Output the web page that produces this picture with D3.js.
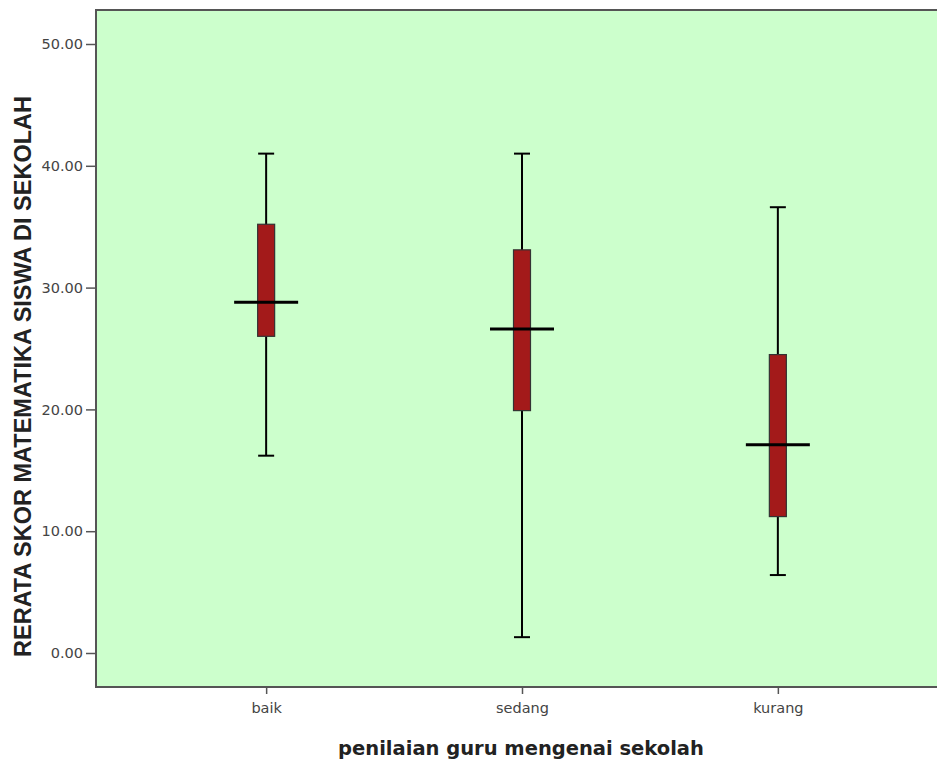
<!DOCTYPE html>
<html>
<head>
<meta charset="utf-8">
<script src="https://cdn.jsdelivr.net/npm/d3@7"></script>
<style>
  body { margin: 0; background: #fff; }
  svg { display: block; font-family: "Liberation Sans", Arial, sans-serif; }
</style>
</head>
<body>
<svg width="937" height="762"></svg>
<script>
// data
const categories = ["baik", "sedang", "kurang"];
const whiskerHigh = [41.0, 41.0, 36.6];
const q3 = [35.2, 33.1, 24.5];
const medians = [28.8, 26.6, 17.1];
const q1 = [26.0, 19.9, 11.2];
const whiskerLow = [16.2, 1.3, 6.4];
const yTicks = [0, 10, 20, 30, 40, 50];

const svg = d3.select("svg");
const plot = {left: 96, top: 10, right: 948, bottom: 687};

// y: 0 -> 653, 50 -> 44
const y = d3.scaleLinear().domain([0, 50]).range([653, 44]);
const x = d3.scalePoint().domain(categories).range([plot.left, plot.right]).padding(0.665);

// background
svg.append("rect")
    .attr("x", plot.left).attr("y", plot.top)
    .attr("width", plot.right - plot.left).attr("height", plot.bottom - plot.top)
    .attr("fill", "#ccffcc").attr("stroke", "#555").attr("stroke-width", 2);

// axes
const yAxis = d3.axisLeft(y).tickValues(yTicks).tickFormat(d3.format(".2f")).tickSize(10).tickSizeOuter(0);
const gy = svg.append("g").attr("transform", `translate(${plot.left},0)`).call(yAxis);
gy.select(".domain").remove();
gy.selectAll(".tick line").attr("stroke", "#555").attr("stroke-width", 1.5);
gy.selectAll(".tick text").attr("fill", "#444")
    .style("font-family", "'DejaVu Sans', Verdana, sans-serif").style("font-size", "14.5px").attr("x", -13);

const xAxis = d3.axisBottom(x).tickSize(7).tickSizeOuter(0);
const gx = svg.append("g").attr("transform", `translate(0,${plot.bottom})`).call(xAxis);
gx.select(".domain").remove();
gx.selectAll(".tick line").attr("stroke", "#555").attr("stroke-width", 1.5);
gx.selectAll(".tick text").attr("fill", "#444")
    .style("font-family", "'DejaVu Sans', Verdana, sans-serif").style("font-size", "14.5px").attr("y", 16);

// boxes
const data = categories.map((c, i) => ({c, hi: whiskerHigh[i], q3: q3[i], med: medians[i], q1: q1[i], lo: whiskerLow[i]}));
const boxW = 17, medW = 64, capW = 16;
const g = svg.selectAll("g.box").data(data).enter().append("g").attr("class", "box");

g.append("line")
    .attr("x1", d => x(d.c)).attr("x2", d => x(d.c))
    .attr("y1", d => y(d.hi)).attr("y2", d => y(d.lo))
    .attr("stroke", "#000").attr("stroke-width", 2);
g.append("line")
    .attr("x1", d => x(d.c) - capW / 2).attr("x2", d => x(d.c) + capW / 2)
    .attr("y1", d => y(d.hi)).attr("y2", d => y(d.hi))
    .attr("stroke", "#000").attr("stroke-width", 2);
g.append("line")
    .attr("x1", d => x(d.c) - capW / 2).attr("x2", d => x(d.c) + capW / 2)
    .attr("y1", d => y(d.lo)).attr("y2", d => y(d.lo))
    .attr("stroke", "#000").attr("stroke-width", 2);
g.append("rect")
    .attr("x", d => x(d.c) - boxW / 2).attr("width", boxW)
    .attr("y", d => y(d.q3)).attr("height", d => y(d.q1) - y(d.q3))
    .attr("fill", "#a31a1a").attr("stroke", "#333").attr("stroke-width", 1.2);
g.append("line")
    .attr("x1", d => x(d.c) - medW / 2).attr("x2", d => x(d.c) + medW / 2)
    .attr("y1", d => y(d.med)).attr("y2", d => y(d.med))
    .attr("stroke", "#000").attr("stroke-width", 3);

// axis titles
svg.append("text")
    .attr("transform", `translate(31,${(95 + 658) / 2}) rotate(-90)`)
    .attr("text-anchor", "middle")
    .style("font-size", "23.5px").style("font-weight", "bold").attr("fill", "#222")
    .text("RERATA SKOR MATEMATIKA SISWA DI SEKOLAH");

svg.append("text")
    .attr("x", 521).attr("y", 755)
    .attr("text-anchor", "middle")
    .style("font-family", "'DejaVu Sans', Verdana, sans-serif")
    .style("font-size", "19.5px").style("font-weight", "bold").attr("fill", "#222")
    .text("penilaian guru mengenai sekolah");
</script>
</body>
</html>
